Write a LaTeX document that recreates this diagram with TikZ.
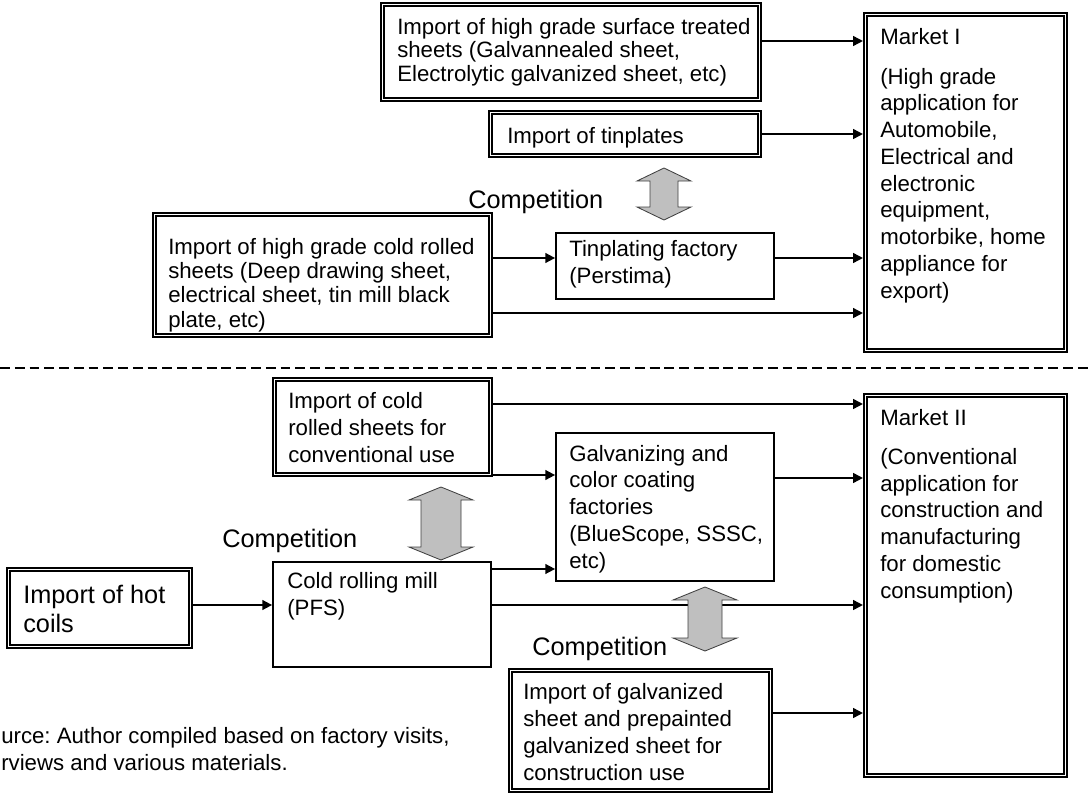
\documentclass[tikz,border=0pt]{standalone}
\usepackage{fontspec}
\setmainfont{Liberation Sans}
\usepackage{tikz}
\usetikzlibrary{arrows.meta}
\definecolor{compgray}{rgb}{0.75, 0.75, 0.75}
\definecolor{edgegray}{rgb}{0.25, 0.25, 0.25}
\frenchspacing
\tikzset{
  imbox/.style={draw, double, line width=1.2pt, double distance=1.2pt, inner sep=0pt, outer sep=1.8pt},
  plainbox/.style={draw, line width=1.2pt, inner sep=0pt},
  % text nodes sit on the baseline of their last line
  txt/.style={anchor=base west, align=left, inner sep=0pt, font=\fontsize{15.8}{19}\selectfont},
  bigtxt/.style={txt, font=\fontsize{18}{20.3}\selectfont},
  flow/.style={line width=1.2pt, -{Triangle[length=7pt, width=7pt]}},
  sepline/.style={line width=1.2pt, dash pattern=on 7pt off 3.5pt},
  rival/.style={draw=edgegray, line width=0.6pt, fill=compgray},
}
\begin{document}
\begin{tikzpicture}[x=0.025cm, y=-0.025cm]
  \useasboundingbox (0,0) rectangle (1088,796);

  % market I side
  \node[imbox, minimum width=9.425cm, minimum height=2.375cm] (surf) at (571,52) {};
  \node[imbox, minimum width=6.725cm, minimum height=1.075cm] (tinimp) at (625,134) {};
  \node[imbox, minimum width=8.4cm, minimum height=3.025cm] (hgcold) at (322.5,275) {};
  \node[plainbox, minimum width=5.45cm, minimum height=1.65cm] (tinfac) at (665,266) {};
  \node[imbox, minimum width=5cm, minimum height=8.4cm] (mktI) at (965.5,182.5) {};

  \node[txt, font=\fontsize{15.8}{16.7}\selectfont] (surf-txt) at (397,81)
    {Import of high grade surface treated\\sheets (Galvannealed sheet,\\Electrolytic galvanized sheet, etc)};
  \node[txt] (tinimp-txt) at (507,143) {Import of tinplates};
  \node[txt, font=\fontsize{15.8}{17.3}\selectfont] (hgcold-txt) at (168,327)
    {Import of high grade cold rolled\\sheets (Deep drawing sheet,\\electrical sheet, tin mill black\\plate, etc)};
  \node[txt] (tinfac-txt) at (569,283) {Tinplating factory\\(Perstima)};
  \node[txt] (mktI-txt) at (880,298)
    {Market I\\[9pt](High grade\\application for\\Automobile,\\Electrical and\\electronic\\equipment,\\motorbike, home\\appliance for\\export)};
  \node[bigtxt] (comp-a) at (468,208) {Competition};

  \draw[flow] ([yshift=0.275cm]surf.east) -- ([yshift=0.275cm]surf.east -| mktI.west);
  \draw[flow] (tinimp.east) -- (tinimp.east -| mktI.west);
  \draw[flow] ([yshift=0.425cm]hgcold.east) -- ([yshift=0.425cm]hgcold.east -| tinfac.west);
  \draw[flow] ([yshift=0.2cm]tinfac.east) -- ([yshift=0.2cm]tinfac.east -| mktI.west);
  \draw[flow] ([yshift=-0.95cm]hgcold.east) -- ([yshift=-0.95cm]hgcold.east -| mktI.west);

  \draw[sepline] (0,368) -- (1088,368);

  % market II side
  \node[imbox, minimum width=5.4cm, minimum height=2.375cm] (crconv) at (382.5,427) {};
  \node[plainbox, minimum width=5.45cm, minimum height=3.7cm] (galv) at (665,507) {};
  \node[plainbox, minimum width=5.45cm, minimum height=2.625cm] (mill) at (382,614.5) {};
  \node[imbox, minimum width=4.55cm, minimum height=1.925cm] (hot) at (99.5,608) {};
  \node[imbox, minimum width=6.5cm, minimum height=3cm] (galvimp) at (640.5,730.5) {};
  \node[imbox, minimum width=5cm, minimum height=9.5cm] (mktII) at (965.5,585.5) {};

  \node[txt] (crconv-txt) at (288,462) {Import of cold\\rolled sheets for\\conventional use};
  \node[txt] (galv-txt) at (569,568) {Galvanizing and\\color coating\\factories\\(BlueScope, SSSC,\\etc)};
  \node[txt] (mill-txt) at (287,615) {Cold rolling mill\\(PFS)};
  \node[bigtxt] (hot-txt) at (23,632) {Import of hot\\coils};
  \node[txt] (galvimp-txt) at (523,780) {Import of galvanized\\sheet and prepainted\\galvanized sheet for\\construction use};
  \node[txt] (mktII-txt) at (880,598)
    {Market II\\[9pt](Conventional\\application for\\construction and\\manufacturing\\for domestic\\consumption)};
  \node[bigtxt] (comp-b) at (222,547) {Competition};
  \node[bigtxt] (comp-c) at (532,655) {Competition};
  \node[txt] (source) at (1,770) {urce: Author compiled based on factory visits,\\rviews and various materials.};

  \draw[flow] ([yshift=0.575cm]crconv.east) -- ([yshift=0.575cm]crconv.east -| mktII.west);
  \draw[flow] ([yshift=-1.2cm]crconv.east) -- ([yshift=-1.2cm]crconv.east -| galv.west);
  \draw[flow] ([yshift=0.725cm]galv.east) -- ([yshift=0.725cm]galv.east -| mktII.west);
  \draw[flow] ([yshift=1.1375cm]mill.east) -- ([yshift=1.1375cm]mill.east -| galv.west);
  \draw[flow] ([yshift=0.2375cm]mill.east) -- ([yshift=0.2375cm]mill.east -| mktII.west);
  \draw[flow] ([yshift=0.075cm]hot.east) -- ([yshift=0.075cm]hot.east -| mill.west);
  \draw[flow] ([yshift=0.4375cm]galvimp.east) -- ([yshift=0.4375cm]galvimp.east -| mktII.west);

  % competition arrows
  \foreach \cx/\ya/\yb/\sw/\hw/\tiph in {664/168/220/14/27/13, 441/487/560/20/32/13, 705/587/651/17/32/13}
  {
    \draw[rival] (\cx,\ya) -- (\cx+\hw,\ya+\tiph) -- (\cx+\sw,\ya+\tiph) -- (\cx+\sw,\yb-\tiph)
      -- (\cx+\hw,\yb-\tiph) -- (\cx,\yb) -- (\cx-\hw,\yb-\tiph) -- (\cx-\sw,\yb-\tiph)
      -- (\cx-\sw,\ya+\tiph) -- (\cx-\hw,\ya+\tiph) -- cycle;
  }
\end{tikzpicture}
\end{document}
